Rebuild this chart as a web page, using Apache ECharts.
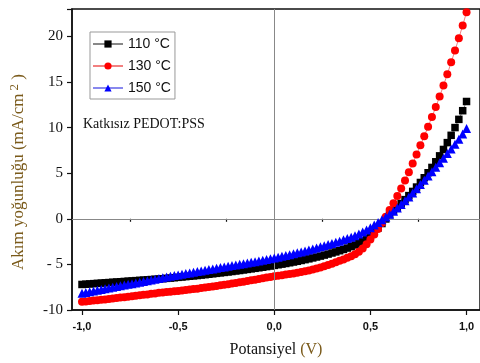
<!DOCTYPE html>
<html>
<head>
<meta charset="utf-8">
<script src="https://cdn.jsdelivr.net/npm/echarts@6/dist/echarts.min.js"></script>
<style>html,body{margin:0;padding:0;background:#fff;}#c{width:480px;height:363px;}</style>
</head>
<body>
<div id="c"></div>
<script>
// Potential (V), step 0.02 from -1.00 to 1.00
var potential = [-1.00,-0.98,-0.96,-0.94,-0.92,-0.90,-0.88,-0.86,-0.84,-0.82,-0.80,-0.78,-0.76,-0.74,-0.72,-0.70,-0.68,-0.66,-0.64,-0.62,-0.60,-0.58,-0.56,-0.54,-0.52,-0.50,-0.48,-0.46,-0.44,-0.42,-0.40,-0.38,-0.36,-0.34,-0.32,-0.30,-0.28,-0.26,-0.24,-0.22,-0.20,-0.18,-0.16,-0.14,-0.12,-0.10,-0.08,-0.06,-0.04,-0.02,0.00,0.02,0.04,0.06,0.08,0.10,0.12,0.14,0.16,0.18,0.20,0.22,0.24,0.26,0.28,0.30,0.32,0.34,0.36,0.38,0.40,0.42,0.44,0.46,0.48,0.50,0.52,0.54,0.56,0.58,0.60,0.62,0.64,0.66,0.68,0.70,0.72,0.74,0.76,0.78,0.80,0.82,0.84,0.86,0.88,0.90,0.92,0.94,0.96,0.98,1.00];

var j110 = [-7.20,-7.17,-7.14,-7.11,-7.08,-7.05,-7.02,-6.99,-6.96,-6.93,-6.90,-6.87,-6.84,-6.81,-6.78,-6.75,-6.72,-6.69,-6.66,-6.63,-6.60,-6.57,-6.53,-6.50,-6.46,-6.42,-6.38,-6.34,-6.30,-6.26,-6.22,-6.17,-6.13,-6.08,-6.03,-5.98,-5.93,-5.88,-5.83,-5.78,-5.72,-5.67,-5.61,-5.55,-5.49,-5.43,-5.37,-5.31,-5.24,-5.18,-5.11,-5.04,-4.97,-4.90,-4.82,-4.74,-4.66,-4.57,-4.48,-4.39,-4.29,-4.19,-4.09,-3.98,-3.87,-3.75,-3.63,-3.50,-3.36,-3.21,-3.05,-2.87,-2.67,-2.42,-2.14,-1.82,-1.44,-1.00,-0.52,-0.02,0.45,0.85,1.26,1.68,2.10,2.54,3.00,3.48,3.98,4.50,5.05,5.63,6.25,6.90,7.60,8.35,9.15,10.00,10.90,11.85,12.86];

var j130 = [-9.10,-9.06,-9.02,-8.97,-8.93,-8.88,-8.84,-8.79,-8.74,-8.69,-8.64,-8.59,-8.54,-8.49,-8.44,-8.39,-8.34,-8.29,-8.23,-8.18,-8.12,-8.07,-8.03,-7.99,-7.95,-7.91,-7.86,-7.81,-7.76,-7.71,-7.66,-7.60,-7.54,-7.48,-7.42,-7.36,-7.30,-7.24,-7.17,-7.10,-7.03,-6.96,-6.89,-6.82,-6.75,-6.68,-6.61,-6.53,-6.45,-6.38,-6.30,-6.24,-6.18,-6.12,-6.06,-5.99,-5.92,-5.84,-5.76,-5.67,-5.57,-5.46,-5.34,-5.21,-5.07,-4.92,-4.77,-4.61,-4.45,-4.28,-4.10,-3.88,-3.62,-3.25,-2.80,-2.28,-1.72,-1.12,-0.47,0.22,0.95,1.70,2.50,3.33,4.20,5.10,6.05,7.05,8.05,9.05,10.10,11.15,12.25,13.40,14.60,15.85,17.15,18.45,19.80,21.20,22.65];

var j150 = [-8.15,-8.07,-7.99,-7.91,-7.83,-7.75,-7.67,-7.59,-7.51,-7.43,-7.35,-7.27,-7.19,-7.11,-7.03,-6.95,-6.87,-6.79,-6.71,-6.63,-6.55,-6.47,-6.39,-6.31,-6.23,-6.15,-6.08,-6.01,-5.93,-5.86,-5.79,-5.72,-5.64,-5.57,-5.50,-5.43,-5.35,-5.28,-5.21,-5.13,-5.06,-4.99,-4.92,-4.84,-4.77,-4.70,-4.62,-4.54,-4.46,-4.38,-4.30,-4.21,-4.12,-4.03,-3.93,-3.83,-3.73,-3.63,-3.52,-3.41,-3.30,-3.19,-3.07,-2.95,-2.83,-2.71,-2.58,-2.45,-2.31,-2.17,-2.02,-1.86,-1.68,-1.46,-1.23,-0.97,-0.69,-0.40,-0.10,0.20,0.50,0.82,1.18,1.57,1.98,2.40,2.84,3.29,3.76,4.23,4.70,5.17,5.65,6.15,6.65,7.15,7.65,8.17,8.72,9.30,9.90];

var seriesNames = ['110 \u00B0C', '130 \u00B0C', '150 \u00B0C'];
var xTickValues = [-1.0, -0.5, 0.0, 0.5, 1.0];
var xTickLabels = ['-1,0', '-0,5', '0,0', '0,5', '1,0'];
var xMinorTicks = [-0.75, -0.25, 0.25, 0.75];
var yTickLabels = {'-10': '-10', '-5': '- 5', '0': '0', '5': '5', '10': '10', '15': '15', '20': '20'};

function pairs(ys) { return potential.map(function (x, i) { return [x, ys[i]]; }); }

var chart = echarts.init(document.getElementById('c'), null, {renderer: 'canvas'});
var XMIN = -1.052, XMAX = 1.07;
var option = {
  animation: false,
  grid: {left: 72, right: -1, top: 9, bottom: 53, show: true, borderColor: '#111', borderWidth: 1.5, backgroundColor: '#fff'},
  xAxis: [{
    type: 'value', min: XMIN, max: XMAX,
    axisLine: {show: true, onZero: false, lineStyle: {color: '#111', width: 1.5}},
    axisTick: {show: true, inside: false, length: 5, lineStyle: {color: '#111', width: 1.2}, customValues: xTickValues},
    axisLabel: {customValues: xTickValues, margin: 11, fontFamily: 'Liberation Sans, Arial', fontWeight: 'bold', fontSize: 11, color: '#111',
      formatter: function (v) { var i = xTickValues.indexOf(Math.round(v * 100) / 100); return i >= 0 ? xTickLabels[i] : ''; }},
    splitLine: {show: false},
    name: '{a|Potansiyel }{b|(V)}', nameLocation: 'middle', nameGap: 32,
    nameTextStyle: {rich: {a: {fontFamily: 'Liberation Serif, Times New Roman', fontSize: 16, color: '#111'}, b: {fontFamily: 'Liberation Serif, Times New Roman', fontSize: 16, color: '#7a5a1a'}}}
  }, {
    type: 'value', min: XMIN, max: XMAX, position: 'bottom', gridIndex: 0,
    axisLine: {show: false},
    axisTick: {show: true, inside: false, length: 3, lineStyle: {color: '#111', width: 1.2}, customValues: xMinorTicks},
    axisLabel: {show: false}, splitLine: {show: false}
  }],
  yAxis: {
    type: 'value', min: -10, max: 23, interval: 5,
    axisLine: {show: true, onZero: false, lineStyle: {color: '#111', width: 1.5}},
    axisTick: {show: true, inside: false, length: 5, lineStyle: {color: '#111', width: 1.2}},
    axisLabel: {margin: 9, fontFamily: 'Liberation Serif, Times New Roman', fontSize: 15, color: '#111',
      formatter: function (v) { return yTickLabels[String(v)] !== undefined ? yTickLabels[String(v)] : ''; }},
    splitLine: {show: false}
  },
  legend: {
    orient: 'vertical', left: 90, top: 32, itemWidth: 30, itemHeight: 9, itemGap: 8,
    borderColor: '#999', borderWidth: 1, padding: [5, 4, 4, 2], borderRadius: 0,
    textStyle: {fontFamily: 'Liberation Sans, Arial', fontSize: 14, color: '#111'},
    data: seriesNames
  },
  graphic: [
    {type: 'text', left: 83, top: 117, style: {text: 'Katkısız PEDOT:PSS', fontFamily: 'Liberation Serif, Times New Roman', fontSize: 14, fill: '#111'}},
    {type: 'text', x: 19, y: 172, rotation: Math.PI / 2,
      style: {text: 'Akım yoğunluğu (mA/cm{s|2} )', align: 'center', verticalAlign: 'middle',
        fontFamily: 'Liberation Serif, Times New Roman', fontSize: 17, fill: '#7a5a1a',
        rich: {s: {fontFamily: 'Liberation Serif, Times New Roman', fontSize: 13, fill: '#7a5a1a', padding: [0, 0, 9, 3]}}}}
  ],
  series: [
    {name: seriesNames[0], type: 'line', data: pairs(j110), symbol: 'rect', symbolSize: 7.5,
      itemStyle: {color: '#000'}, lineStyle: {color: '#888', width: 1}, z: 3,
      markLine: {silent: true, symbol: 'none', label: {show: false}, lineStyle: {color: '#888', width: 1, type: 'solid'},
        data: [{xAxis: 0}, {yAxis: 0}]}},
    {name: seriesNames[1], type: 'line', data: pairs(j130), symbol: 'circle', symbolSize: 8,
      itemStyle: {color: '#ff0000'}, lineStyle: {color: '#f28080', width: 1}, z: 4},
    {name: seriesNames[2], type: 'line', data: pairs(j150), symbol: 'triangle', symbolSize: 9,
      itemStyle: {color: '#0000ff'}, lineStyle: {color: '#8888ee', width: 1}, z: 5}
  ]
};
chart.setOption(option);
</script>
</body>
</html>
